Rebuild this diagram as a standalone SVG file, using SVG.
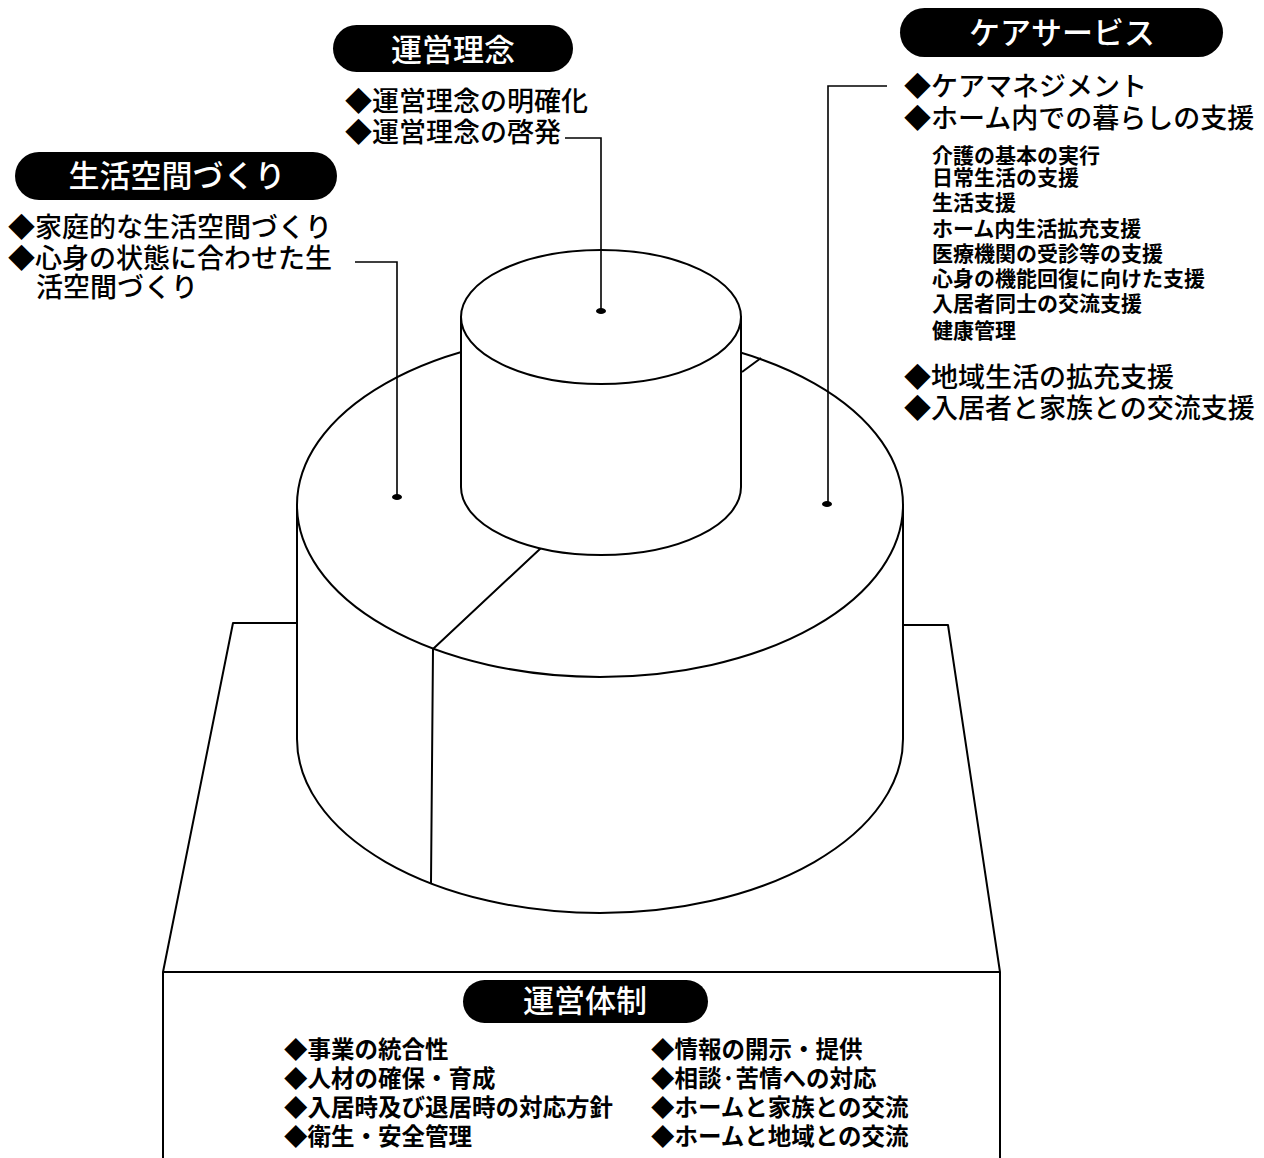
<svg xmlns="http://www.w3.org/2000/svg" width="1264" height="1158" viewBox="0 0 1264 1158">
<style>
.ln{fill:none;stroke:#000;stroke-width:2;stroke-linejoin:round}
.body{fill:#fff;stroke:#000;stroke-width:2}
.lead{fill:none;stroke:#000;stroke-width:1.6}
.pill{fill:#000}
.pt{font-family:"Noto Sans CJK JP","Noto Sans",sans-serif;font-size:31px;font-weight:500;fill:#fff;text-anchor:middle}
.t{font-family:"Noto Sans CJK JP","Noto Sans",sans-serif;font-size:27px;font-weight:500;fill:#000}
.s{font-family:"Noto Sans CJK JP","Noto Sans",sans-serif;font-size:21px;font-weight:700;fill:#000}
.b{font-family:"Noto Sans CJK JP","Noto Sans",sans-serif;font-size:23.5px;font-weight:700;fill:#000}
</style>
<rect width="1264" height="1158" fill="#fff"/>

<g id="base">
<polyline class="ln" points="298,623 233,623 163,972 163,1158"/>
<polyline class="ln" points="903,625 948,625 1000,972 1000,1158"/>
<line class="ln" x1="163" y1="972" x2="1000" y2="972"/>
</g>

<g id="big-cylinder">
<path class="body" d="M297,505 L297,739 A303,174 0 0 0 903,739 L903,505 Z"/>
<ellipse class="body" cx="600" cy="505" rx="303" ry="172"/>
<polyline class="ln" points="541,548 433,649 431,883"/>
<line class="ln" x1="742" y1="372" x2="761" y2="358"/>
</g>

<g id="inner-cylinder">
<path class="body" d="M461,317 L461,487 A140,68 0 0 0 741,487 L741,317 Z"/>
<ellipse class="body" cx="601" cy="317" rx="140" ry="67"/>
</g>

<g id="connectors">
<path class="lead" d="M565,138 H601 V311"/>
<path class="lead" d="M355,262 H397 V497"/>
<path class="lead" d="M887,86 H828 V504"/>
<ellipse cx="601" cy="311" rx="5" ry="3"/>
<ellipse cx="397" cy="497" rx="5" ry="3"/>
<ellipse cx="827" cy="504" rx="5" ry="3"/>
</g>

<g id="node-unei-rinen">
<rect class="pill" x="333" y="25" width="240" height="47" rx="23.5"/>
<text class="pt" x="453" y="61">運営理念</text>
<text class="t"><tspan x="345" y="111">◆運営理念の明確化</tspan><tspan x="345" y="142">◆運営理念の啓発</tspan></text>
</g>

<g id="node-care-service">
<rect class="pill" x="900" y="8" width="323" height="49" rx="24.5"/>
<text class="pt" x="1062" y="44">ケアサービス</text>
<text class="t"><tspan x="904" y="96">◆ケアマネジメント</tspan><tspan x="904" y="128">◆ホーム内での暮らしの支援</tspan></text>
<text class="s"><tspan x="932" y="163">介護の基本の実行</tspan><tspan x="932" y="185">日常生活の支援</tspan><tspan x="932" y="210">生活支援</tspan><tspan x="932" y="236">ホーム内生活拡充支援</tspan><tspan x="932" y="261">医療機関の受診等の支援</tspan><tspan x="932" y="286">心身の機能回復に向けた支援</tspan><tspan x="932" y="311">入居者同士の交流支援</tspan><tspan x="932" y="338">健康管理</tspan></text>
<text class="t"><tspan x="904" y="387">◆地域生活の拡充支援</tspan><tspan x="904" y="418">◆入居者と家族との交流支援</tspan></text>
</g>

<g id="node-seikatsu-kukan">
<rect class="pill" x="15" y="152" width="322" height="48" rx="24"/>
<text class="pt" x="177" y="187">生活空間づくり</text>
<text class="t"><tspan x="8" y="237">◆家庭的な生活空間づくり</tspan><tspan x="8" y="268">◆心身の状態に合わせた生</tspan><tspan x="36" y="297">活空間づくり</tspan></text>
</g>

<g id="node-unei-taisei">
<rect class="pill" x="463" y="980" width="245" height="43" rx="21.5"/>
<text class="pt" x="585" y="1012">運営体制</text>
<text class="b"><tspan x="284" y="1058">◆事業の統合性</tspan><tspan x="284" y="1087">◆人材の確保・育成</tspan><tspan x="284" y="1116">◆入居時及び退居時の対応方針</tspan><tspan x="284" y="1145">◆衛生・安全管理</tspan></text>
<text class="b"><tspan x="651" y="1058">◆情報の開示・提供</tspan><tspan x="651" y="1087">◆相談·苦情への対応</tspan><tspan x="651" y="1116">◆ホームと家族との交流</tspan><tspan x="651" y="1145">◆ホームと地域との交流</tspan></text>
</g>
</svg>
